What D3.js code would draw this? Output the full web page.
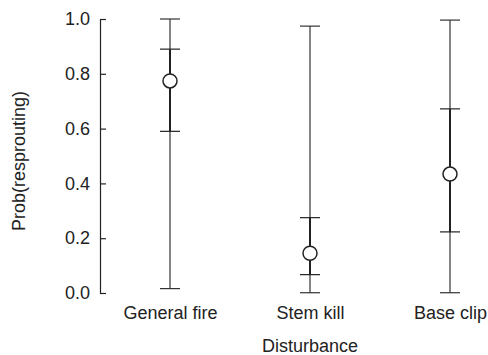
<!DOCTYPE html>
<html>
<head>
<meta charset="utf-8">
<script src="https://cdn.jsdelivr.net/npm/d3@7"></script>
<style>
  body { margin: 0; background: #fff; }
  text { font-family: "Liberation Sans", Arial, sans-serif; fill: #222; }
</style>
</head>
<body>
<div id="chart"></div>
<script>
// values
var categories = ["General fire", "Stem kill", "Base clip"];
var estimate = [0.774, 0.145, 0.434];
var innerLow = [0.59, 0.067, 0.223];
var innerHigh = [0.89, 0.275, 0.672];
var outerLow = [0.016, 0.001, 0.001];
var outerHigh = [1.0, 0.974, 0.996];
var yTicks = [0, 0.2, 0.4, 0.6, 0.8, 1.0];

var width = 488, height = 355;

var svg = d3.select("#chart")
  .append("svg")
    .attr("width", width)
    .attr("height", height);

var x = d3.scalePoint()
    .domain(categories)
    .range([170, 450]);

var y = d3.scaleLinear()
    .domain([0, 1])
    .range([293, 19]);

var data = categories.map(function(c, i) {
  return {cat: c, est: estimate[i], lo: innerLow[i], hi: innerHigh[i], olo: outerLow[i], ohi: outerHigh[i]};
});

// y axis, ticks point inward
var yAxis = svg.append("g")
    .attr("transform", "translate(100,0)")
    .call(d3.axisLeft(y).tickValues(yTicks).tickFormat(d3.format(".1f")).tickSize(-6).tickSizeOuter(0).tickPadding(10));
yAxis.select(".domain").attr("stroke", "#222").attr("stroke-width", 1.2);
yAxis.selectAll(".tick line").attr("stroke", "#222").attr("stroke-width", 1.2);
yAxis.selectAll(".tick text").style("font-size", "18px").attr("fill", "#222");

// x labels only
var xAxis = svg.append("g")
    .attr("transform", "translate(0,300)")
    .call(d3.axisBottom(x).tickSize(0).tickPadding(6));
xAxis.select(".domain").remove();
xAxis.selectAll(".tick text").style("font-size", "18px").attr("fill", "#222");

svg.append("text")
    .attr("x", 310)
    .attr("y", 352)
    .attr("text-anchor", "middle")
    .style("font-size", "18px")
    .text("Disturbance");

svg.append("text")
    .attr("transform", "translate(25,161) rotate(-90)")
    .attr("text-anchor", "middle")
    .style("font-size", "18px")
    .text("Prob(resprouting)");

var capW = 10;
var g = svg.selectAll(".est").data(data).enter().append("g");

// outer interval
g.append("line")
    .attr("x1", d => x(d.cat)).attr("x2", d => x(d.cat))
    .attr("y1", d => y(d.olo)).attr("y2", d => y(d.ohi))
    .attr("stroke", "#333").attr("stroke-width", 1.2);
g.selectAll(".ocap").data(d => [[d.cat, d.olo], [d.cat, d.ohi]]).enter().append("line")
    .attr("x1", d => x(d[0]) - capW).attr("x2", d => x(d[0]) + capW)
    .attr("y1", d => y(d[1])).attr("y2", d => y(d[1]))
    .attr("stroke", "#333").attr("stroke-width", 1.2);

// inner interval
g.append("line")
    .attr("x1", d => x(d.cat)).attr("x2", d => x(d.cat))
    .attr("y1", d => y(d.lo)).attr("y2", d => y(d.hi))
    .attr("stroke", "#222").attr("stroke-width", 2);
g.selectAll(".icap").data(d => [[d.cat, d.lo], [d.cat, d.hi]]).enter().append("line")
    .attr("x1", d => x(d[0]) - capW).attr("x2", d => x(d[0]) + capW)
    .attr("y1", d => y(d[1])).attr("y2", d => y(d[1]))
    .attr("stroke", "#222").attr("stroke-width", 1.2);

// point estimate
g.append("circle")
    .attr("cx", d => x(d.cat))
    .attr("cy", d => y(d.est))
    .attr("r", 7)
    .attr("fill", "#fff")
    .attr("stroke", "#222")
    .attr("stroke-width", 1.5);
</script>
</body>
</html>
